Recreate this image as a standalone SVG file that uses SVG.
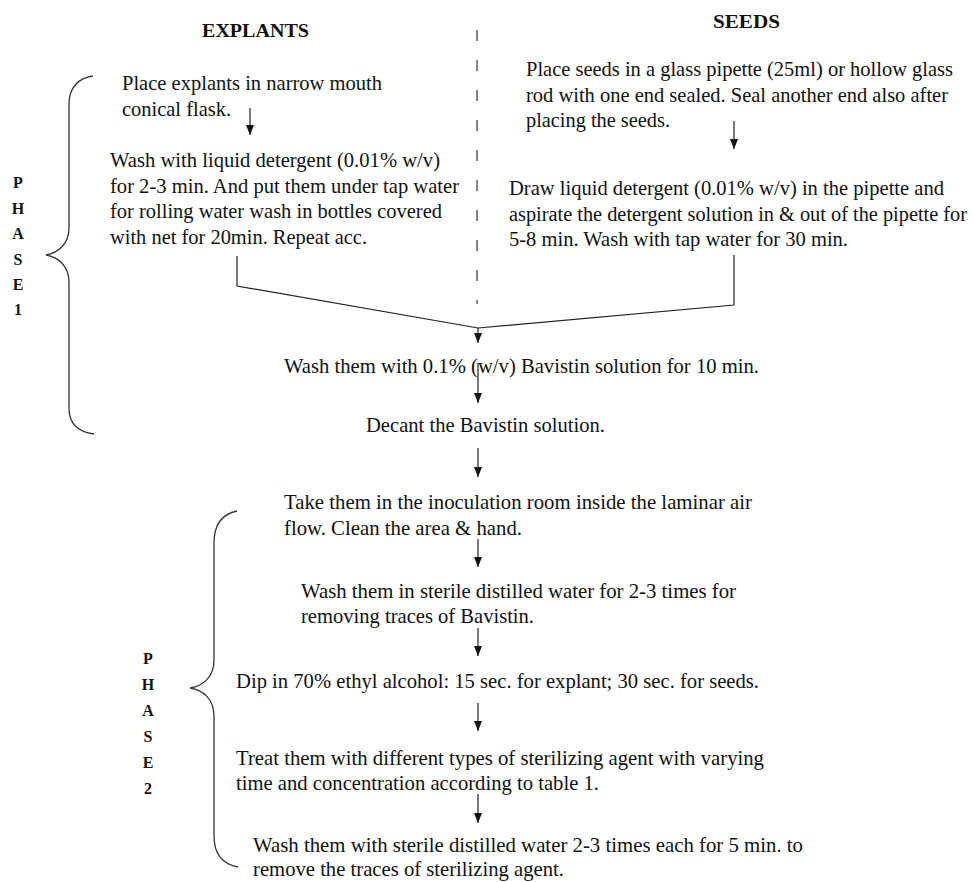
<svg xmlns="http://www.w3.org/2000/svg" width="974" height="882" viewBox="0 0 974 882">
<style>
  text { font-family: "Liberation Serif", "Times New Roman", serif; fill: #111; }
  .t { font-size: 21px; }
  .t20 { font-size: 20px; }
  .h { font-size: 19px; font-weight: bold; }
  .ph { font-size: 16px; font-weight: bold; text-anchor: middle; }
  .ln { fill: none; stroke: #222; stroke-width: 1.2; }
  .ar { fill: none; stroke: #222; stroke-width: 1.2; marker-end: url(#ah); }
  .dash { fill: none; stroke: #333; stroke-width: 1.2; stroke-dasharray: 11 19; }
  .br { fill: none; stroke: #333; stroke-width: 1.3; }
</style>
<defs>
  <marker id="ah" markerUnits="userSpaceOnUse" markerWidth="10" markerHeight="8" viewBox="0 0 10 8" refX="10" refY="4" orient="auto">
    <path d="M0,0 L10,4 L0,8 z" fill="#111"/>
  </marker>
</defs>
<rect width="974" height="882" fill="#fff"/>

<g id="header-explants"><text class="h" x="202" y="37" textLength="107" lengthAdjust="spacingAndGlyphs">EXPLANTS</text></g>
<g id="header-seeds"><text class="h" x="713" y="28" textLength="67" lengthAdjust="spacingAndGlyphs">SEEDS</text></g>

<g id="phase1-label">
  <text class="ph" x="18" y="188">P</text>
  <text class="ph" x="18" y="214">H</text>
  <text class="ph" x="18" y="239">A</text>
  <text class="ph" x="18" y="265">S</text>
  <text class="ph" x="18" y="290">E</text>
  <text class="ph" x="18" y="315">1</text>
  <path class="br" d="M93 76 C78 78 69 88 69 104 L69 228 C69 244 58 253 46 255 C58 257 69 266 69 282 L69 408 C69 424 78 432 94 434"/>
</g>
<g id="phase2-label">
  <text class="ph" x="148" y="664">P</text>
  <text class="ph" x="148" y="690">H</text>
  <text class="ph" x="148" y="716">A</text>
  <text class="ph" x="148" y="742">S</text>
  <text class="ph" x="148" y="768">E</text>
  <text class="ph" x="148" y="794">2</text>
  <path class="br" d="M237 511 C222 514 214 525 214 543 L214 660 C214 677 203 686 190 688 C203 690 214 699 214 716 L214 836 C214 854 222 864 238 867"/>
</g>

<g id="n-explant-place">
  <text class="t" x="122" y="90" textLength="260" lengthAdjust="spacingAndGlyphs">Place explants in narrow mouth</text>
  <text class="t" x="122" y="116" textLength="109" lengthAdjust="spacingAndGlyphs">conical flask.</text>
</g>
<g id="n-explant-wash">
  <text class="t" x="110" y="167" textLength="330" lengthAdjust="spacingAndGlyphs">Wash with liquid detergent (0.01% w/v)</text>
  <text class="t" x="110" y="193" textLength="349" lengthAdjust="spacingAndGlyphs">for 2-3 min. And put them under tap water</text>
  <text class="t" x="110" y="218" textLength="332" lengthAdjust="spacingAndGlyphs">for rolling water wash in bottles covered</text>
  <text class="t" x="110" y="244" textLength="257" lengthAdjust="spacingAndGlyphs">with net for 20min. Repeat acc.</text>
</g>
<g id="n-seed-place">
  <text class="t" x="526" y="76" textLength="427" lengthAdjust="spacingAndGlyphs">Place seeds in a glass pipette (25ml) or hollow glass</text>
  <text class="t" x="526" y="102" textLength="422" lengthAdjust="spacingAndGlyphs">rod with one end sealed. Seal another end also after</text>
  <text class="t" x="526" y="127" textLength="144" lengthAdjust="spacingAndGlyphs">placing the seeds.</text>
</g>
<g id="n-seed-wash">
  <text class="t" x="509" y="195" textLength="435" lengthAdjust="spacingAndGlyphs">Draw liquid detergent (0.01% w/v) in the pipette and</text>
  <text class="t20" x="509" y="221" textLength="458" lengthAdjust="spacingAndGlyphs">aspirate the detergent solution in &amp; out of the pipette for</text>
  <text class="t" x="509" y="246" textLength="339" lengthAdjust="spacingAndGlyphs">5-8 min. Wash with tap water for 30 min.</text>
</g>
<g id="n-bavistin">
  <text class="t" x="284" y="373" textLength="475" lengthAdjust="spacingAndGlyphs">Wash them with 0.1% (w/v) Bavistin solution for 10 min.</text>
</g>
<g id="n-decant">
  <text class="t" x="366" y="432" textLength="239" lengthAdjust="spacingAndGlyphs">Decant the Bavistin solution.</text>
</g>
<g id="n-inoculation">
  <text class="t" x="284" y="509" textLength="468" lengthAdjust="spacingAndGlyphs">Take them in the inoculation room inside the laminar air</text>
  <text class="t" x="284" y="535" textLength="238" lengthAdjust="spacingAndGlyphs">flow. Clean the area &amp; hand.</text>
</g>
<g id="n-sterile-wash">
  <text class="t" x="301" y="598" textLength="435" lengthAdjust="spacingAndGlyphs">Wash them in sterile distilled water for 2-3 times for</text>
  <text class="t" x="301" y="623" textLength="233" lengthAdjust="spacingAndGlyphs">removing traces of Bavistin.</text>
</g>
<g id="n-alcohol">
  <text class="t" x="236" y="688" textLength="523" lengthAdjust="spacingAndGlyphs">Dip in 70% ethyl alcohol: 15 sec. for explant; 30 sec. for seeds.</text>
</g>
<g id="n-sterilizing">
  <text class="t" x="236" y="765" textLength="528" lengthAdjust="spacingAndGlyphs">Treat them with different types of sterilizing agent with varying</text>
  <text class="t" x="236" y="790" textLength="363" lengthAdjust="spacingAndGlyphs">time and concentration according to table 1.</text>
</g>
<g id="n-final-wash">
  <text class="t" x="253" y="852" textLength="550" lengthAdjust="spacingAndGlyphs">Wash them with sterile distilled water 2-3 times each for 5 min. to</text>
  <text class="t" x="253" y="876" textLength="311" lengthAdjust="spacingAndGlyphs">remove the traces of sterilizing agent.</text>
</g>

<g id="connectors">
  <line class="dash" x1="477" y1="30" x2="477" y2="304"/>
  <line class="ar" x1="250" y1="108" x2="250" y2="135"/>
  <line class="ar" x1="734" y1="121" x2="734" y2="149"/>
  <polyline class="ln" points="237,256 237,286 478,328"/>
  <polyline class="ln" points="734,255 734,305 478,328"/>
  <line class="ar" x1="478" y1="328" x2="478" y2="343"/>
  <line class="ar" x1="478" y1="363" x2="478" y2="403"/>
  <line class="ar" x1="478" y1="448" x2="478" y2="477"/>
  <line class="ar" x1="478" y1="539" x2="478" y2="567"/>
  <line class="ar" x1="478" y1="628" x2="478" y2="656"/>
  <line class="ar" x1="478" y1="703" x2="478" y2="731"/>
  <line class="ar" x1="478" y1="794" x2="478" y2="823"/>
</g>
</svg>
